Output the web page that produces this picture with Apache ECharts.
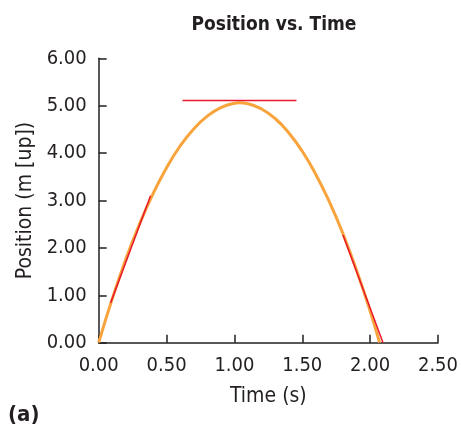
<!DOCTYPE html>
<html>
<head>
<meta charset="utf-8">
<script src="https://cdn.jsdelivr.net/npm/echarts@6/dist/echarts.min.js"></script>
<style>
  html, body { margin: 0; padding: 0; background: #fff; }
  #chart { width: 461px; height: 426px; }
</style>
</head>
<body>
<div id="chart"></div>
<script>
// values
const times = [0, 0.1, 0.2, 0.3, 0.4, 0.5, 0.6, 0.7, 0.8, 0.9, 1.0, 1.035, 1.1, 1.2, 1.3, 1.4, 1.5, 1.6, 1.7, 1.8, 1.9, 2.0, 2.07];
const positions = [0, 0.93, 1.76, 2.50, 3.14, 3.69, 4.15, 4.51, 4.78, 4.96, 5.05, 5.06, 5.04, 4.93, 4.73, 4.43, 4.04, 3.55, 2.97, 2.30, 1.53, 0.67, 0];

const tangentStart = [[0.088, 0.84], [0.382, 3.10]];
const tangentTop = [[0.618, 5.11], [1.457, 5.11]];
const tangentEnd = [[1.80, 2.27], [2.095, 0.0]];

const xTicks = { min: 0, max: 2.5, step: 0.5 };
const yTicks = { min: 0, max: 6, step: 1 };

const font = '"DejaVu Sans Condensed", "Liberation Sans Narrow", sans-serif';
const axisColor = '#231f20';

function tangentSeries(points) {
    return {
        type: 'line',
        data: points,
        symbol: 'none',
        lineStyle: { color: '#e8192c', width: 1.5 },
        z: 3,
        silent: true
    };
}

echarts.init(document.querySelector('#chart')).setOption({
    animation: false,
    title: {
        text: 'Position vs. Time',
        left: 269,
        top: 11,
        textAlign: 'center',
        textStyle: { fontFamily: font, fontWeight: 'bold', fontSize: 19, color: axisColor }
    },
    grid: { left: 98.7, right: 20.3, top: 58.3, bottom: 83.3 },
    xAxis: {
        type: 'value',
        min: xTicks.min,
        max: xTicks.max,
        interval: xTicks.step,
        name: 'Time (s)',
        nameLocation: 'middle',
        nameGap: 43,
        nameTextStyle: { fontFamily: font, fontSize: 21, color: axisColor },
        axisLine: { lineStyle: { color: axisColor, width: 1.5 } },
        axisTick: { inside: true, length: 8, lineStyle: { color: axisColor, width: 1.5 } },
        axisLabel: {
            fontFamily: font, fontSize: 20, color: axisColor, margin: 13,
            formatter: v => v.toFixed(2)
        },
        splitLine: { show: false }
    },
    yAxis: {
        type: 'value',
        min: yTicks.min,
        max: yTicks.max,
        interval: yTicks.step,
        name: 'Position (m [up])',
        nameLocation: 'middle',
        nameGap: 59,
        nameTextStyle: { fontFamily: font, fontSize: 21, color: axisColor },
        axisLine: { show: true, lineStyle: { color: axisColor, width: 1.5 } },
        axisTick: { show: true, inside: true, length: 8, lineStyle: { color: axisColor, width: 1.5 } },
        axisLabel: {
            fontFamily: font, fontSize: 20, color: axisColor, margin: 12,
            formatter: v => v.toFixed(2)
        },
        splitLine: { show: false }
    },
    series: [
        {
            type: 'line',
            data: times.map((t, i) => [t, positions[i]]),
            smooth: true,
            symbol: 'none',
            lineStyle: { color: '#f9a33c', width: 3 },
            z: 2
        },
        tangentSeries(tangentStart),
        tangentSeries(tangentTop),
        tangentSeries(tangentEnd)
    ],
    graphic: [{
        type: 'text',
        left: 8,
        top: 404,
        style: { text: '(a)', fontFamily: font, fontWeight: 'bold', fontSize: 22, fill: axisColor }
    }]
});
</script>
</body>
</html>
